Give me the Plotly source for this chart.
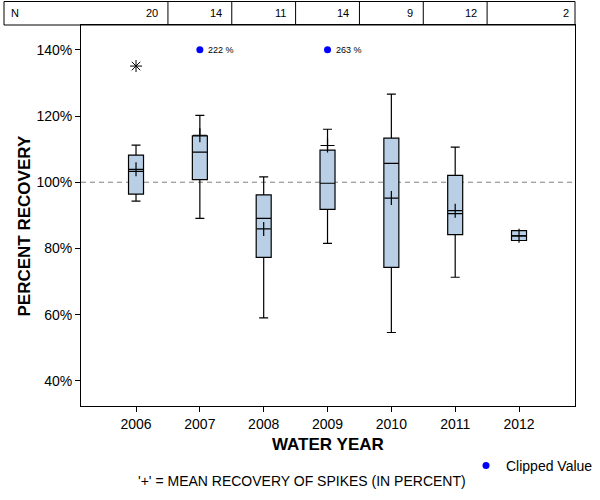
import plotly.graph_objects as go

# ---- data ----
years = ["2006", "2007", "2008", "2009", "2010", "2011", "2012"]
n_values = [20, 14, 11, 14, 9, 12, 2]
lower_whisker = [94.3, 89.1, 59.0, 81.5, 54.6, 71.3, 82.4]
q1_values = [96.4, 100.8, 77.3, 91.8, 74.3, 84.2, 82.4]
median_values = [103.3, 109.1, 89.1, 99.7, 105.7, 90.5, 83.8]
q3_values = [108.2, 114.0, 96.2, 109.7, 113.3, 102.1, 85.4]
upper_whisker = [111.2, 120.2, 101.6, 116.0, 126.6, 110.6, 85.4]
mean_values = [103.9, 114.2, 85.9, 111.1, 95.2, 91.4, 83.8]
outlier_years = ["2006"]
outlier_values = [135.1]
clipped_years = ["2007", "2009"]
clipped_plot_values = [140.0, 140.0]
clipped_labels = ["222 %", "263 %"]
y_ticks = [40, 60, 80, 100, 120, 140]
y_tick_labels = ["40%", "60%", "80%", "100%", "120%", "140%"]

# ---- geometry helpers ----
W, H = 600, 500
ML, MR, MT, MB = 81, 25, 25, 94
PW, PH = W - ML - MR, H - MT - MB
xpos = list(range(len(years)))
xmap = {y: i for i, y in enumerate(years)}
X_RANGE = [-0.862, len(years) - 1 + 0.877]
Y_RANGE = [32.4, 147.5]


def px_x(px):
    return (px - ML) / PW


def px_y(py):
    return (H - MB - py) / PH


FONT = "Liberation Sans, Arial, sans-serif"

fig = go.Figure()

fig.add_trace(go.Box(
    x=xpos, q1=q1_values, median=median_values, q3=q3_values,
    lowerfence=lower_whisker, upperfence=upper_whisker,
    width=0.235, whiskerwidth=0.6, boxpoints=False,
    fillcolor="#B9CFE6", line=dict(color="black", width=1.2),
    showlegend=False, hoverinfo="skip",
))

fig.add_trace(go.Scatter(
    x=xpos, y=mean_values, mode="markers",
    marker=dict(symbol="cross-thin", size=10, color="black",
                line=dict(color="black", width=1.2)),
    showlegend=False, hoverinfo="skip",
))

fig.add_trace(go.Scatter(
    x=[xmap[y] for y in outlier_years], y=outlier_values, mode="markers",
    marker=dict(symbol="asterisk-open", size=10, color="black",
                line=dict(color="black", width=1)),
    showlegend=False, hoverinfo="skip",
))

fig.add_trace(go.Scatter(
    x=[xmap[y] for y in clipped_years], y=clipped_plot_values, mode="markers",
    marker=dict(symbol="circle", size=7, color="#0000FF"),
    name="Clipped Value", showlegend=True, hoverinfo="skip",
))

shapes = []
# reference line at 100%
shapes.append(dict(type="line", xref="paper", yref="y", x0=0, x1=1, y0=100, y1=100,
                   line=dict(color="#808080", width=1, dash="5px,4px"), layer="below"))
# N table
tbl_top = px_y(1.5)
shapes.append(dict(type="rect", xref="paper", yref="paper", x0=px_x(4), x1=1,
                   y0=1, y1=tbl_top, line=dict(color="black", width=1)))
for i in range(len(years) - 1):
    shapes.append(dict(type="line", xref="x", yref="paper", x0=i + 0.5, x1=i + 0.5,
                       y0=1, y1=tbl_top, line=dict(color="black", width=1)))

annotations = []
annotations.append(dict(text="N", xref="paper", yref="paper", x=px_x(9), y=px_y(13),
                        xanchor="left", yanchor="middle", showarrow=False,
                        font=dict(family=FONT, size=11, color="black")))
for i, n in enumerate(n_values):
    if i < len(years) - 1:
        ax, xref, shift = i + 0.5, "x", -8
    else:
        ax, xref, shift = 1, "paper", -4
    annotations.append(dict(text=str(n), xref=xref, yref="paper", x=ax, y=px_y(13),
                            xshift=shift, xanchor="right", yanchor="middle", showarrow=False,
                            font=dict(family=FONT, size=11, color="black")))

for yr, val, lab in zip(clipped_years, clipped_plot_values, clipped_labels):
    annotations.append(dict(text=lab, xref="x", yref="y", x=xmap[yr], y=val,
                            xshift=6, xanchor="left", yanchor="middle", showarrow=False,
                            font=dict(family=FONT, size=9, color="black")))

annotations.append(dict(text="<b>PERCENT RECOVERY</b>", xref="paper", yref="paper",
                        x=px_x(24.5), y=px_y(226), textangle=-90, showarrow=False,
                        xanchor="center", yanchor="middle",
                        font=dict(family=FONT, size=17, color="black")))
annotations.append(dict(text="<b>WATER YEAR</b>", xref="paper", yref="paper",
                        x=px_x(328), y=px_y(444), showarrow=False,
                        xanchor="center", yanchor="middle",
                        font=dict(family=FONT, size=17, color="black")))
annotations.append(dict(text="'+' = MEAN RECOVERY OF SPIKES (IN PERCENT)", xref="paper", yref="paper",
                        x=px_x(302), y=px_y(481), showarrow=False,
                        xanchor="center", yanchor="middle",
                        font=dict(family=FONT, size=14, color="black")))

fig.update_layout(
    width=W, height=H,
    margin=dict(l=ML, r=MR, t=MT, b=MB, autoexpand=False),
    paper_bgcolor="white", plot_bgcolor="white",
    font=dict(family=FONT, size=14, color="black"),
    shapes=shapes, annotations=annotations,
    legend=dict(xref="container", yref="container", x=466 / W, y=(H - 466) / H,
                xanchor="left", yanchor="middle",
                bgcolor="rgba(0,0,0,0)", font=dict(family=FONT, size=14, color="black")),
    xaxis=dict(range=X_RANGE, tickmode="array", tickvals=xpos, ticktext=years,
               showgrid=False, zeroline=False, showline=True, linecolor="black", linewidth=1,
               mirror=True, ticks="outside", ticklen=5, tickcolor="black",
               tickfont=dict(family=FONT, size=14, color="black")),
    yaxis=dict(range=Y_RANGE, tickmode="array", tickvals=y_ticks, ticktext=y_tick_labels,
               showgrid=False, zeroline=False, showline=True, linecolor="black", linewidth=1,
               mirror=True, ticks="outside", ticklen=5, tickcolor="black",
               tickfont=dict(family=FONT, size=14, color="black")),
)

fig.write_html("out.html",
               config={"displayModeBar": False},
               post_script="document.body.style.margin='0';document.body.style.padding='0';")
